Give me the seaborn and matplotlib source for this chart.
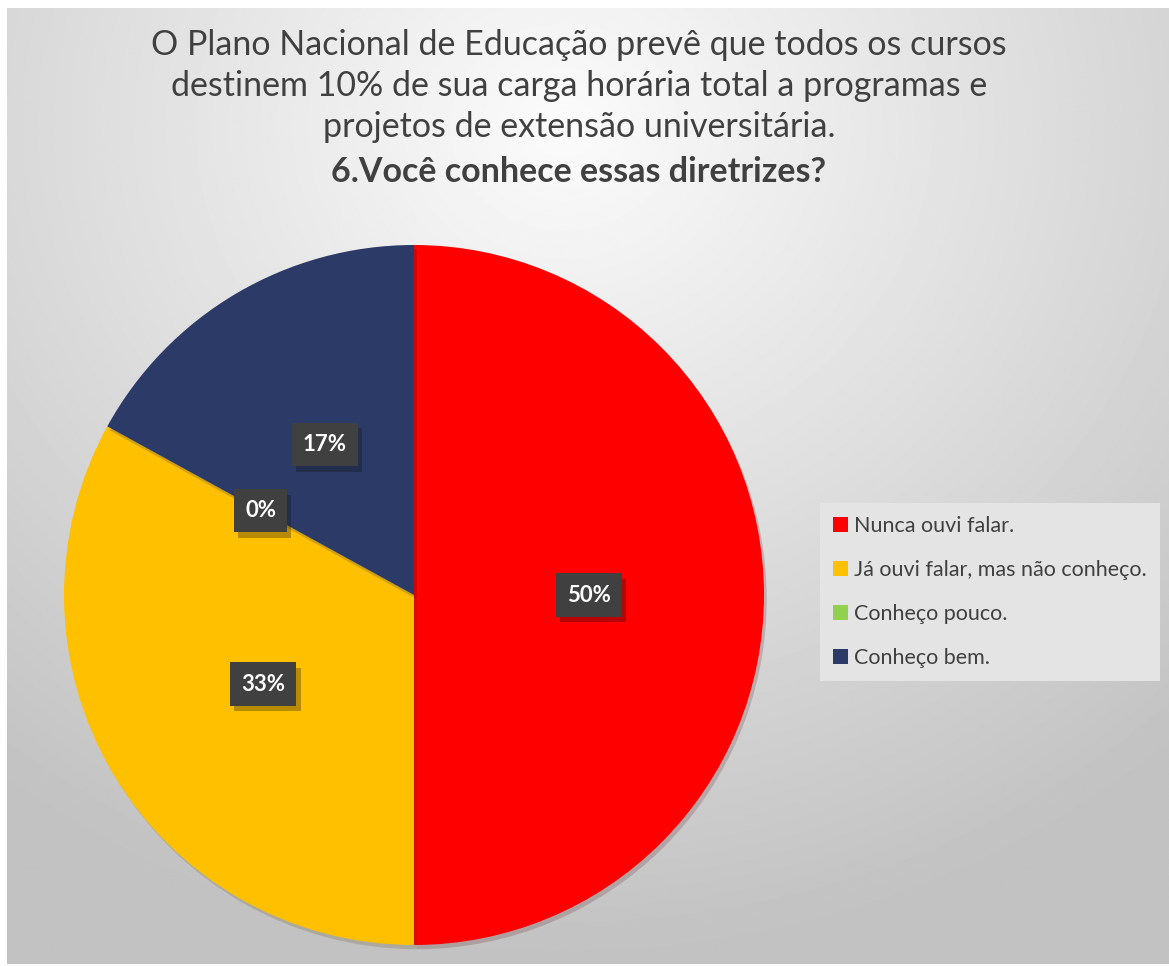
import numpy as np
import matplotlib
matplotlib.use("Agg")
import matplotlib.pyplot as plt
import matplotlib.patheffects as pe
from matplotlib.patches import Patch
import seaborn as sns

# data
categories = ["Nunca ouvi falar.", "Já ouvi falar, mas não conheço.",
              "Conheço pouco.", "Conheço bem."]
shares = [50, 33, 0, 17]
labels = ["50%", "33%", "0%", "17%"]
colors = ["#FF0000", "#FFC000", "#92D050", "#2B3A66"]

title_lines = ["O Plano Nacional de Educação prevê que todos os cursos",
               "destinem 10% de sua carga horária total a programas e",
               "projetos de extensão universitária."]
question = "6.Você conhece essas diretrizes?"

sns.set_theme(style="white")
plt.rcParams["font.family"] = ["Lato", "DejaVu Sans"]

W, H = 1169, 966
fig = plt.figure(figsize=(W / 100, H / 100), dpi=100)
fig.patch.set_facecolor("white")

# radial grey background
bg = fig.add_axes([7 / W, 2 / H, (W - 7) / W, (H - 10) / H])
yy, xx = np.mgrid[0:H, 0:W]
d = np.sqrt(((xx - 560) / 900.0) ** 2 + ((yy - 120) / 820.0) ** 2)
grey = np.clip(0.985 - 0.22 * d, 0.76, 1.0)
bg.imshow(grey, cmap="gray", vmin=0, vmax=1, aspect="auto")
bg.set_axis_off()

# title, one line at a time
for i, line in enumerate(title_lines):
    fig.text(579 / W, 1 - (45 + 41 * i) / H, line, ha="center",
             va="center", fontsize=24.5, color="#404040")
fig.text(579 / W, 1 - 172 / H, question, ha="center", va="center",
         fontsize=24.5, color="#404040", fontweight="bold")

# pie
cx, cy, r = 414, 595, 350
ax = fig.add_axes([(cx - r) / W, (H - cy - r) / H, 2 * r / W, 2 * r / H])

wedges, texts = ax.pie(shares, colors=colors, labels=labels, startangle=90,
                       counterclock=False, labeldistance=0.5, radius=1.0,
                       wedgeprops=dict(linewidth=0),
                       textprops=dict(color="white", fontweight="bold",
                                      fontsize=16, ha="center", va="center"))
ax.set_xlim(-1, 1)
ax.set_ylim(-1, 1)
ax.set_aspect("equal")
ax.set_axis_off()

for w in wedges:
    w.set_path_effects([pe.SimplePatchShadow(offset=(2, -3), alpha=0.18),
                        pe.Normal()])
for t in texts:
    t.set_bbox(dict(boxstyle="square,pad=0.5", facecolor="#404040",
                    edgecolor="none"))
    t.get_bbox_patch().set_path_effects(
        [pe.SimplePatchShadow(offset=(3, -4), alpha=0.3), pe.Normal()])

# legend
handles = [Patch(facecolor=c, edgecolor="none") for c in colors]
leg = fig.legend(handles, categories, loc="upper left",
                 bbox_to_anchor=(820 / W, 1 - 503 / H), frameon=True,
                 fontsize=15.5, labelspacing=1.12, handlelength=0.7,
                 handleheight=0.7, handletextpad=0.3, borderpad=0.6,
                 borderaxespad=0, fancybox=False)
leg.get_frame().set_facecolor("#E4E4E4")
leg.get_frame().set_edgecolor("none")
leg.get_frame().set_alpha(1)
for t in leg.get_texts():
    t.set_color("#404040")

fig.savefig("out.png", dpi=100)
